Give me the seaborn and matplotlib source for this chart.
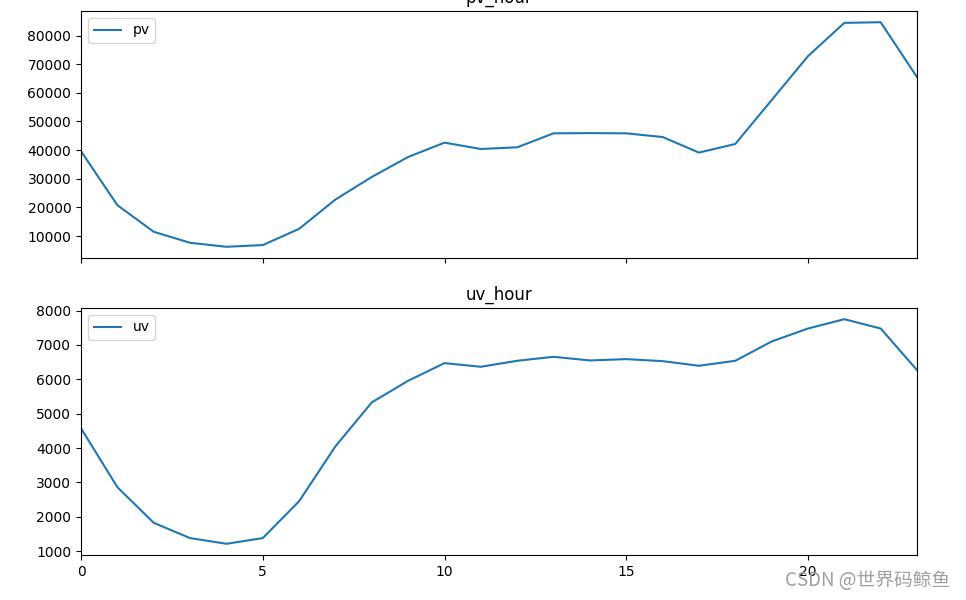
import numpy as np
import pandas as pd
import matplotlib
matplotlib.use('Agg')
import matplotlib.pyplot as plt
import seaborn as sns

# 每小时的数据
hours = list(range(24))
pv = [39600, 20800, 11500, 7670, 6280, 6870, 12540, 22780, 30650, 37620, 42620, 40400,
      41000, 45870, 45950, 45870, 44580, 39150, 42150, 57470, 72800, 84420, 84650, 65480]
uv = [4573, 2859, 1823, 1378, 1213, 1378, 2452, 4050, 5328, 5957, 6470, 6364,
      6538, 6654, 6548, 6586, 6528, 6393, 6538, 7100, 7477, 7748, 7477, 6267]
pv_ticks = [10000, 20000, 30000, 40000, 50000, 60000, 70000, 80000]
x_ticks = [0, 5, 10, 15, 20]

pv_hour = pd.DataFrame({'hour': hours, 'pv': pv})
uv_hour = pd.DataFrame({'hour': hours, 'uv': uv})

plt.rcParams['font.family'] = ['DejaVu Sans', 'Noto Sans CJK SC']

fig = plt.figure(figsize=(9.66, 6), dpi=100)
ax1 = fig.add_axes([0.0839, 0.570, 0.8654, 0.4117])
ax2 = fig.add_axes([0.0839, 0.075, 0.8654, 0.4117], sharex=ax1)

sns.lineplot(x='hour', y='pv', data=pv_hour, ax=ax1, label='pv', color='#1f77b4')
sns.lineplot(x='hour', y='uv', data=uv_hour, ax=ax2, label='uv', color='#1f77b4')

for ax, t in [(ax1, 'pv_hour'), (ax2, 'uv_hour')]:
    ax.set_title(t)
    ax.set_xlabel('')
    ax.set_ylabel('')
    ax.legend(loc='upper left')
    ax.set_xlim(0, 23)

ax1.set_xticks(x_ticks)
ax1.set_yticks(pv_ticks)
plt.setp(ax1.get_xticklabels(), visible=False)

# 水印
fig.text(0.984, 0.032, 'CSDN @世界码鲸鱼', ha='right', va='center', fontsize=13.5,
         color='#a0a0a0', family=['Noto Sans CJK SC', 'DejaVu Sans'])

plt.savefig('out.png', dpi=100)
